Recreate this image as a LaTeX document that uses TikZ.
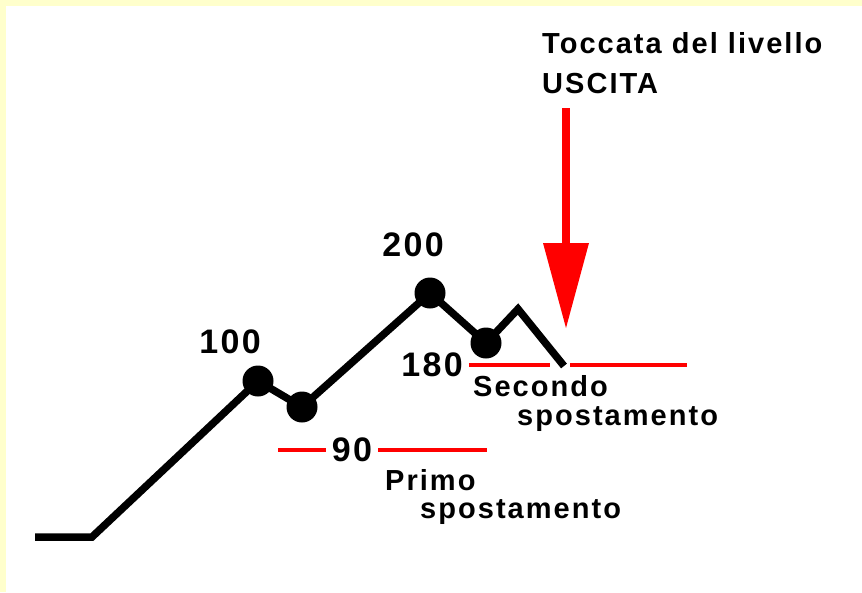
\documentclass[tikz,border=0pt]{standalone}
\usepackage{fontspec}
\setmainfont{Liberation Sans}[LetterSpace=7]
\usetikzlibrary{arrows.meta,positioning}
\definecolor{paleyellow}{HTML}{FFFFCC}
\tikzset{>=latex}

\begin{document}
\begin{tikzpicture}[x=1pt,y=-1pt,
        price/.style={line width=7.5pt},
        pivot/.style={circle,fill=black,inner sep=0pt,minimum size=31pt},
        level/.style={red,line width=4.5pt},
        exit/.style={red,line width=8pt,-{Triangle[width=46pt,length=85pt,line width=0pt]}},
        num/.style={font=\fontsize{34}{40}\selectfont\bfseries,inner sep=6pt},
        txt/.style={font=\fontsize{29}{34}\selectfont\bfseries,anchor=base west,inner sep=0pt}]
    \fill[paleyellow] (0,0) rectangle (862,592);
    \fill[white] (6,6) rectangle (862,592);
    \useasboundingbox (0,0) rectangle (862,592);

    \node[pivot] (p100) at (258,381) {};
    \node[pivot] (p90) at (302,407) {};
    \node[pivot] (p200) at (430,293) {};
    \node[pivot] (p180) at (486,343) {};
    \coordinate (s0) at (35,537);
    \coordinate (s1) at (92,537);
    \coordinate (top) at (518,309);
    \coordinate (hit) at (564,366);

    \node[num] (n100) at (230,342) {100};
    \node[num] (n200) at (413,245) {200};
    \node[num] (n90) at (352,450) {90};
    \node[num] (n180) at (432,365) {180};

    \coordinate (lv90w) at (278,450);
    \coordinate (lv90e) at (487,450);
    \coordinate (lv180a) at (550,365);
    \coordinate (lv180b) at (570,365);
    \coordinate (lv180c) at (687,365);
    \draw[level] (lv90w) -- (n90.west);
    \draw[level] (n90.east) -- (lv90e);
    \draw[level] (n180.east) -- (lv180a);
    \draw[level] (lv180b) -- (lv180c);

    \draw[price] (s0) -- (s1) -- (p100.center) -- (p90.center) -- (p200.center) -- (p180.center) -- (top) -- (hit);

    \node[txt] (toccata) at (542,53) {Toccata del livello};
    \node[txt] (uscita) at (542,93) {USCITA};
    \node[txt] (secondo) at (473,396) {Secondo};
    \node[txt] (spost2) at (517,425) {spostamento};
    \node[txt] (primo) at (385,490) {Primo};
    \node[txt] (spost1) at (420,518) {spostamento};

    \coordinate (atop) at (566,108);
    \coordinate (tip) at (566,328);
    \draw[exit] (atop) -- (tip);
\end{tikzpicture}
\end{document}
